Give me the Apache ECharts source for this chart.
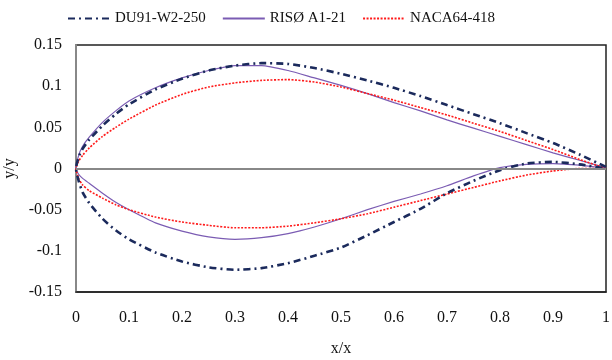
<!DOCTYPE html>
<html>
<head>
<meta charset="utf-8">
<script src="https://cdn.jsdelivr.net/npm/echarts@6/dist/echarts.min.js"></script>
<style>
  html, body { margin: 0; padding: 0; background: #fff; }
  #chart { width: 612px; height: 360px; }
</style>
</head>
<body>
<div id="chart"></div>
<script>
// chord stations, shared by every surface
const xs = [0, 0.005, 0.0125, 0.025, 0.05, 0.075, 0.1, 0.15, 0.2, 0.25, 0.3, 0.35, 0.4, 0.45, 0.5, 0.55, 0.6, 0.65, 0.7, 0.75, 0.8, 0.85, 0.9, 0.95, 1];

const duUpper = [0, 0.014, 0.024, 0.035, 0.052, 0.066, 0.078, 0.096, 0.109, 0.119, 0.125, 0.128, 0.127, 0.122, 0.115, 0.107, 0.098, 0.088, 0.077, 0.066, 0.055, 0.043, 0.031, 0.017, 0.002];
const duLower = [0, -0.015, -0.029, -0.042, -0.061, -0.075, -0.086, -0.102, -0.113, -0.120, -0.123, -0.121, -0.115, -0.106, -0.096, -0.081, -0.065, -0.049, -0.030, -0.015, -0.002, 0.006, 0.008, 0.005, 0];

const risoUpper = [0, 0.016, 0.027, 0.038, 0.056, 0.070, 0.082, 0.098, 0.110, 0.119, 0.125, 0.125, 0.119, 0.110, 0.101, 0.091, 0.080, 0.070, 0.059, 0.049, 0.039, 0.029, 0.019, 0.010, 0.001];
const risoLower = [0, -0.007, -0.012, -0.018, -0.030, -0.041, -0.050, -0.066, -0.076, -0.083, -0.086, -0.084, -0.079, -0.071, -0.061, -0.050, -0.040, -0.031, -0.021, -0.009, 0.001, 0.005, 0.006, 0.004, 0];

const nacaUpper = [0, 0.009, 0.016, 0.025, 0.039, 0.050, 0.060, 0.077, 0.090, 0.099, 0.104, 0.107, 0.108, 0.105, 0.099, 0.091, 0.083, 0.074, 0.065, 0.055, 0.045, 0.034, 0.023, 0.011, 0];
const nacaLower = [0, -0.012, -0.020, -0.027, -0.036, -0.044, -0.050, -0.059, -0.065, -0.069, -0.072, -0.072, -0.070, -0.066, -0.061, -0.055, -0.047, -0.039, -0.031, -0.023, -0.015, -0.008, -0.003, 0, 0];

const names = ['DU91-W2-250', 'RISØ A1-21', 'NACA64-418'];

// trailing edge -> leading edge along the upper side, then back along the lower side
const loop = (upper, lower) => {
    const pts = [];
    for (let i = xs.length - 1; i >= 0; i--) pts.push([xs[i], upper[i]]);
    for (let i = 1; i < xs.length; i++) pts.push([xs[i], lower[i]]);
    return pts;
};

const font = 'Liberation Serif';
const chart = echarts.init(document.getElementById('chart'));
chart.setOption({
    animation: false,
    textStyle: { fontFamily: font },
    legend: {
        top: 6,
        left: 62,
        itemWidth: 42,
        itemHeight: 10,
        itemGap: 16,
        itemStyle: { opacity: 0 },
        textStyle: { fontFamily: font, fontSize: 15, color: '#111' },
        data: names,
    },
    grid: {
        left: 76, right: 6, top: 45, bottom: 68,
        containLabel: false, outerBoundsMode: 'none',
        show: true, borderColor: '#222', borderWidth: 1.5,
    },
    xAxis: {
        type: 'value',
        min: 0, max: 1, interval: 0.1,
        name: 'x/x', nameLocation: 'middle', nameGap: 49,
        nameTextStyle: { fontFamily: font, fontSize: 16, color: '#111' },
        axisLine: { onZero: false, lineStyle: { color: '#222', width: 1.5 } },
        axisTick: { show: false },
        splitLine: { show: false },
        axisLabel: { fontFamily: font, fontSize: 16, color: '#111', margin: 18 },
    },
    yAxis: {
        type: 'value',
        min: -0.15, max: 0.15, interval: 0.05,
        name: 'y/y', nameLocation: 'middle', nameGap: 50,
        nameTextStyle: { fontFamily: font, fontSize: 16, color: '#111' },
        axisLine: { show: true, lineStyle: { color: '#888', width: 2 } },
        axisTick: { show: false },
        splitLine: { show: false },
        axisLabel: {
            fontFamily: font, fontSize: 16, color: '#111', margin: 14,
            formatter: (v) => String(Math.round(v * 100) / 100),
        },
    },
    series: [
        {
            name: names[1], type: 'line', symbol: 'none', smooth: 0.2, z: 2,
            data: loop(risoUpper, risoLower),
            lineStyle: { color: '#7b5cb3', width: 1.2 },
            itemStyle: { color: '#7b5cb3' },
            markLine: {
                silent: true, symbol: 'none', label: { show: false },
                lineStyle: { color: '#888', width: 2, type: 'solid' },
                data: [{ yAxis: 0 }],
            },
        },
        {
            name: names[2], type: 'line', symbol: 'none', smooth: 0.2, z: 3,
            data: loop(nacaUpper, nacaLower),
            lineStyle: { color: '#ff1a1a', width: 1.6, type: [2, 1.5] },
            itemStyle: { color: '#ff1a1a' },
        },
        {
            name: names[0], type: 'line', symbol: 'none', smooth: 0.2, z: 4,
            data: loop(duUpper, duLower),
            lineStyle: { color: '#1b2a5c', width: 2.6, type: [7, 4, 2, 4] },
            itemStyle: { color: '#1b2a5c' },
        },
    ],
});
</script>
</body>
</html>
